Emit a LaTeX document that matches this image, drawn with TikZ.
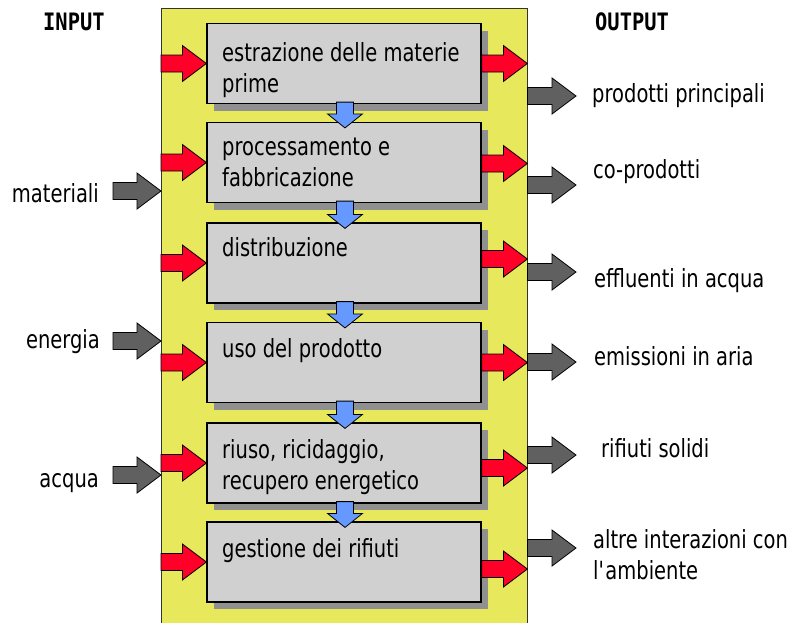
\documentclass[tikz,border=0pt]{standalone}
\usepackage{fontspec}
\setmainfont{DejaVu Sans}[FakeStretch=0.78]
\newfontfamily\headfont{DejaVu Sans Mono}[FakeStretch=0.85]
\usetikzlibrary{calc,shadows}
\definecolor{bgyellow}{RGB}{232,232,92}
\definecolor{boxgray}{RGB}{208,208,208}
\definecolor{shadowgray}{RGB}{144,144,144}
\definecolor{arrred}{RGB}{255,0,40}
\definecolor{arrgray}{RGB}{96,96,96}
\definecolor{arrblue}{RGB}{102,153,255}
% horizontal block arrow: #1 style, #2 tail point, #3 tip point (x only used)
\newcommand\harrow[3]{%
  \draw[#1] let \p1=(#2), \p2=(#3) in
    (\x1,\y1+8.5pt) -- (\x2-24pt,\y1+8.5pt) -- (\x2-24pt,\y1+18pt) -- (\x2,\y1)
    -- (\x2-24pt,\y1-18pt) -- (\x2-24pt,\y1-8.5pt) -- (\x1,\y1-8.5pt) -- cycle;}
% vertical (downward) block arrow: #1 upper box, #2 lower box
\newcommand\varrow[2]{%
  \draw[blockblue] let \p1=($(#1.south)+(1,-2)$), \p2=($(#2.north)+(1,6)$) in
    (\x1-8.5pt,\y1) -- (\x1+8.5pt,\y1) -- (\x1+8.5pt,\y2+14pt) -- (\x1+17.5pt,\y2+14pt)
    -- (\x1,\y2) -- (\x1-17.5pt,\y2+14pt) -- (\x1-8.5pt,\y2+14pt) -- cycle;}
\tikzset{
  stagebox/.style={draw=black, line width=1.2pt, fill=boxgray, minimum width=274pt,
    minimum height=80pt, inner sep=0pt,
    drop shadow={shadow xshift=7pt, shadow yshift=-7pt, opacity=1, fill=shadowgray, draw=none}},
  blockred/.style={fill=arrred, draw=black, line width=0.8pt, line join=miter},
  blockgray/.style={fill=arrgray, draw=black, line width=0.8pt, line join=miter},
  blockblue/.style={fill=arrblue, draw=black, line width=0.8pt, line join=miter},
  txt/.style={anchor=base west, inner sep=0pt, font=\fontsize{25}{31}\selectfont, text=black},
  txtr/.style={txt, anchor=base east},
  head/.style={anchor=base west, inner sep=0pt, font=\headfont\bfseries\fontsize{24}{28}\selectfont}
}
\newcommand\lns[1]{\parbox[t]{9cm}{\raggedright #1}}
\begin{document}
\begin{tikzpicture}[x=1pt,y=-1pt]
\useasboundingbox (0,0) rectangle (792,622);
\fill[white] (0,0) rectangle (792,622);
% container
\node[fill=bgyellow, minimum width=366pt, minimum height=640pt, inner sep=0pt, anchor=north west] (lc) at (161,8) {};
\draw[draw=black!80, line width=1pt] (lc.south west) -- (lc.north west) -- (lc.north east) -- (lc.south east);
% stage boxes
\node[stagebox] (b1) at (344,63.5) {};
\node[stagebox] (b2) at (344,162.5) {};
\node[stagebox] (b3) at (344,263) {};
\node[stagebox] (b4) at (344,362.5) {};
\node[stagebox] (b5) at (344,463) {};
\node[stagebox] (b6) at (344,562) {};
% red inputs / outputs of stages
\foreach \b in {b1,b2,b3,b4,b5,b6}{
  \harrow{blockred}{lc.west |- \b.west}{\b.west}
}
\harrow{blockred}{$(b1.east)+(0,0)$}{lc.east}
\harrow{blockred}{$(b2.east)+(0,1)$}{lc.east}
\harrow{blockred}{$(b3.east)+(0,-4)$}{lc.east}
\harrow{blockred}{$(b4.east)+(0,0)$}{lc.east}
\harrow{blockred}{$(b5.east)+(0,5)$}{lc.east}
\harrow{blockred}{$(b6.east)+(0,7)$}{lc.east}
% blue flow arrows
\varrow{b1}{b2}
\varrow{b2}{b3}
\varrow{b3}{b4}
\varrow{b4}{b5}
\varrow{b5}{b6}
% stage texts
\node[txt] (t1) at (222,61) {\lns{estrazione delle materie\\prime}};
\node[txt] (t2) at (222,155) {\lns{processamento e\\fabbricazione}};
\node[txt] (t3) at (222,256) {distribuzione};
\node[txt] (t4) at (222,357) {uso del prodotto};
\node[txt] (t5) at (222,458) {\lns{riuso, ricidaggio,\\recupero energetico}};
\node[txt] (t6) at (222,557) {gestione dei rifiuti};
% headings
\node[head] (hin) at (43,30) {INPUT};
\node[head] (hout) at (595,30) {OUTPUT};
% input labels and arrows
\node[txtr] (imat) at (99,202) {materiali};
\node[txtr] (iene) at (100,348) {energia};
\node[txtr] (iacq) at (99,487) {acqua};
\coordinate (imatT) at (113,191);
\coordinate (ieneT) at (113,341);
\coordinate (iacqT) at (113,475);
\harrow{blockgray}{imatT}{lc.west}
\harrow{blockgray}{ieneT}{lc.west}
\harrow{blockgray}{iacqT}{lc.west}
% output labels and arrows
\node[txt] (o1) at (592,102) {prodotti principali};
\node[txt] (o2) at (593,178) {co-prodotti};
\node[txt] (o3) at (594,287) {effluenti in acqua};
\node[txt] (o4) at (594,365) {emissioni in aria};
\node[txt] (o5) at (601,457) {rifiuti solidi};
\node[txt] (o6) at (593,548) {\lns{altre interazioni con\\l\textquotesingle ambiente}};
\coordinate (o1T) at (576,96);
\coordinate (o2T) at (576,185);
\coordinate (o3T) at (576,272);
\coordinate (o4T) at (576,362);
\coordinate (o5T) at (576,455);
\coordinate (o6T) at (576,548);
\foreach \o in {o1T,o2T,o3T,o4T,o5T,o6T}{
  \harrow{blockgray}{lc.east |- \o}{\o}
}
\end{tikzpicture}
\end{document}
